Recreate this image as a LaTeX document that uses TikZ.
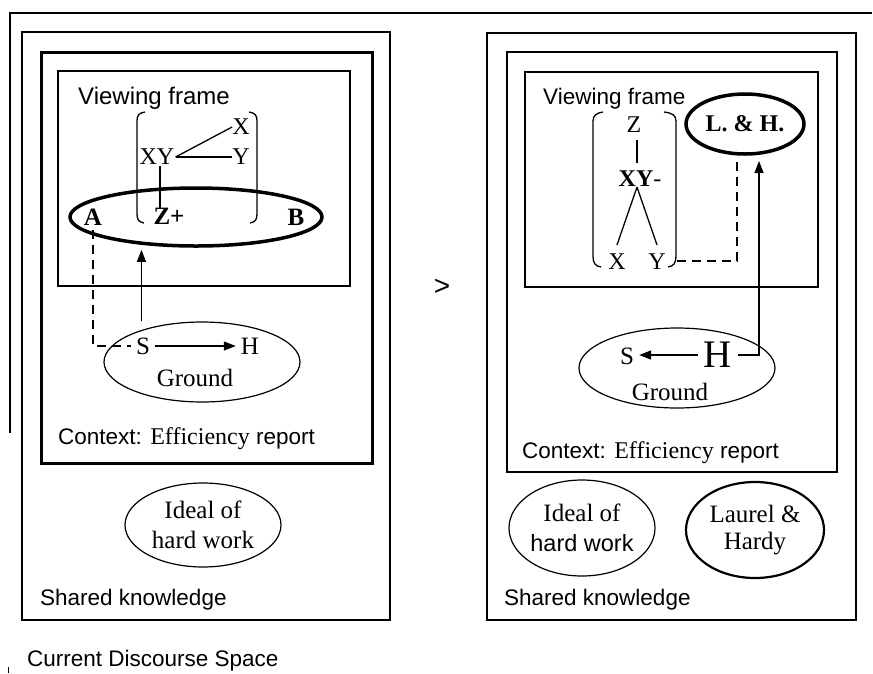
\documentclass[tikz,border=0pt]{standalone}
\usepackage{fontspec}
\setmainfont{Liberation Serif}
\setsansfont{Liberation Sans}
\usetikzlibrary{shapes.geometric,arrows.meta,calc}
\begin{document}
\begin{tikzpicture}[x=1pt,y=-1pt,
  box/.style={draw, line width=1.2pt},
  thickbox/.style={draw, line width=3pt},
  sf/.style={font=\sffamily\fontsize{22.5}{27}\selectfont, inner sep=0pt},
  sfbig/.style={font=\sffamily\fontsize{24}{28}\selectfont, inner sep=0pt},
  rm/.style={font=\rmfamily\fontsize{24}{30}\selectfont, inner sep=0pt},
  rmb/.style={font=\rmfamily\bfseries\fontsize{25}{30}\selectfont, inner sep=0pt},
  lbl/.style={font=\rmfamily\fontsize{25}{30}\selectfont, inner sep=5pt},
  oval/.style={draw, ellipse, line width=1.2pt, inner sep=0pt, align=center, font=\rmfamily\fontsize{25}{30}\selectfont},
  boldoval/.style={draw, ellipse, line width=3.5pt, inner sep=0pt},
  conn/.style={line width=1.3pt},
  arr/.style={line width=1.3pt, -{Triangle[length=12pt,width=9pt]}},
  dsh/.style={line width=2.5pt, dash pattern=on 9pt off 6pt},
  brk/.style={line width=1.3pt},
]
\useasboundingbox (0,0) rectangle (873,673);

% outer frame
\draw[line width=1.8pt] (10,433) -- (10,13) -- (872,13);
\draw[line width=0.6pt] (8,667) -- (8,673);
\node[sf, anchor=base west] (cds) at (27,666) {Current Discourse Space};
\node[font=\sffamily\fontsize{28}{30}\selectfont, inner sep=0pt] (gt) at (442,287) {>};

% ================= LEFT PANEL =================
\draw[box] (22,32) rectangle (390,620);
\draw[thickbox] (41,52) rectangle (372,463);
\draw[box] (58,71) rectangle (350,286);
\node[sfbig, anchor=base west] (vf1) at (78,104) {Viewing frame};

% brackets
\draw[brk] (145,112) .. controls (139,113) and (137,115) .. (137,121) -- (137,214) .. controls (137,220) and (139,222) .. (144,223);
\draw[brk] (249,112) .. controls (255,113) and (257,115) .. (257,121) -- (257,214) .. controls (257,220) and (255,222) .. (250,223);

\node[rm] (X1) at (241,127) {X};
\node[rm, inner sep=1pt] (XY1) at (157,157) {XY};
\node[rm] (Y1) at (241,157) {Y};
\node[boldoval, minimum width=252pt, minimum height=58pt] (AB) at (196,217) {};
\node[rmb] (Z1) at (169,216) {Z+};
\node[rmb, inner sep=5pt] (A) at (93,217) {A};
\node[rmb] (B) at (296,217) {B};
\draw[conn] (XY1.east) -- (X1.west);
\draw[conn] (XY1.east) -- (Y1.west);
\draw[conn] ([xshift=3pt]XY1.south) -- ([xshift=3pt]XY1.south |- Z1.north);

% ground
\node[oval, minimum width=196pt, minimum height=80pt] (G1) at (202,362) {};
\node[lbl] (S1) at (143,346) {S};
\node[lbl] (H1) at (250,346) {H};
\node[rm, anchor=base, font=\rmfamily\fontsize{25}{30}\selectfont] (gr1) at (195,386) {Ground};
\draw[arr] (S1.east) -- (H1.west);
\draw[dsh] (A.south) |- (S1.west);
\draw[arr, shorten >=5pt] (AB.207 |- G1.north) -- (AB.207);

\node[sf, anchor=base west] (ctx1) at (58,444) {Context: {\rmfamily\fontsize{24}{28}\selectfont Efficiency} report};

\node[oval, minimum width=156pt, minimum height=84pt] (ideal1) at (203,525) {Ideal of\\hard work};
\node[sf, anchor=base west] (sk1) at (40,605) {Shared knowledge};

% ================= RIGHT PANEL =================
\draw[box] (487,33) rectangle (856,620);
\draw[box] (507,52) rectangle (837,472);
\draw[box] (525,72) rectangle (818,287);
\node[sf, anchor=base west] (vf2) at (543,104) {Viewing frame};

\draw[brk] (603,112) .. controls (597,113) and (593,115) .. (593,121) -- (593,256) .. controls (593,263) and (595,266) .. (601,267);
\draw[brk] (664,112) .. controls (672,113) and (676,115) .. (676,121) -- (676,256) .. controls (676,263) and (674,266) .. (668,267);

\node[rm, inner sep=3pt] (Z2) at (634,125) {Z};
\node[rm] (XY2) at (640,179) {\textbf{XY}-};
\node[rm] (X2) at (617,262) {X};
\node[rm] (Y2) at (657,262) {Y};
\draw[conn, shorten <=4pt, shorten >=8pt] ([xshift=3pt]Z2.south) -- ([xshift=3pt]Z2.south |- XY2.north);
\draw[conn] ([xshift=-3pt]XY2.south) -- ([yshift=9pt]X2.north);
\draw[conn] ([xshift=-3pt]XY2.south) -- ([yshift=9pt]Y2.north);

\node[boldoval, minimum width=118pt, minimum height=60pt, font=\rmfamily\bfseries\fontsize{24}{28}\selectfont] (LH) at (745,124) {L.\ \&\ H.};
\coordinate (rbr) at (677,261);
\coordinate (lhd) at (737,162);
\coordinate (lha) at (759,161);
\draw[dsh] (rbr) -| (lhd);

% ground
\node[oval, minimum width=196pt, minimum height=80pt] (G2) at (677,368) {};
\node[rm, font=\rmfamily\fontsize{39}{40}\selectfont, inner sep=6pt] (H2) at (718,355) {H};
\node[lbl] (S2) at (627,356) {S};
\node[rm, anchor=base, font=\rmfamily\fontsize{25}{30}\selectfont] (gr2) at (670,400) {Ground};
\draw[arr] (H2.west) -- (H2.west -| S2.east);
\draw[arr] (H2.east) -| (lha);

\node[sf, anchor=base west] (ctx2) at (522,458) {Context: {\rmfamily\fontsize{24}{28}\selectfont Efficiency} report};

\node[oval, minimum width=146pt, minimum height=96pt] (ideal2) at (582,528) {Ideal of\\{\sffamily\fontsize{23.5}{30}\selectfont hard work}};
\node[oval, line width=2.2pt, minimum width=138pt, minimum height=96pt, font=\rmfamily\fontsize{25}{27}\selectfont] (lh2) at (755,530) {Laurel \&\\Hardy};
\node[sf, anchor=base west] (sk2) at (504,605) {Shared knowledge};
\end{tikzpicture}
\end{document}
